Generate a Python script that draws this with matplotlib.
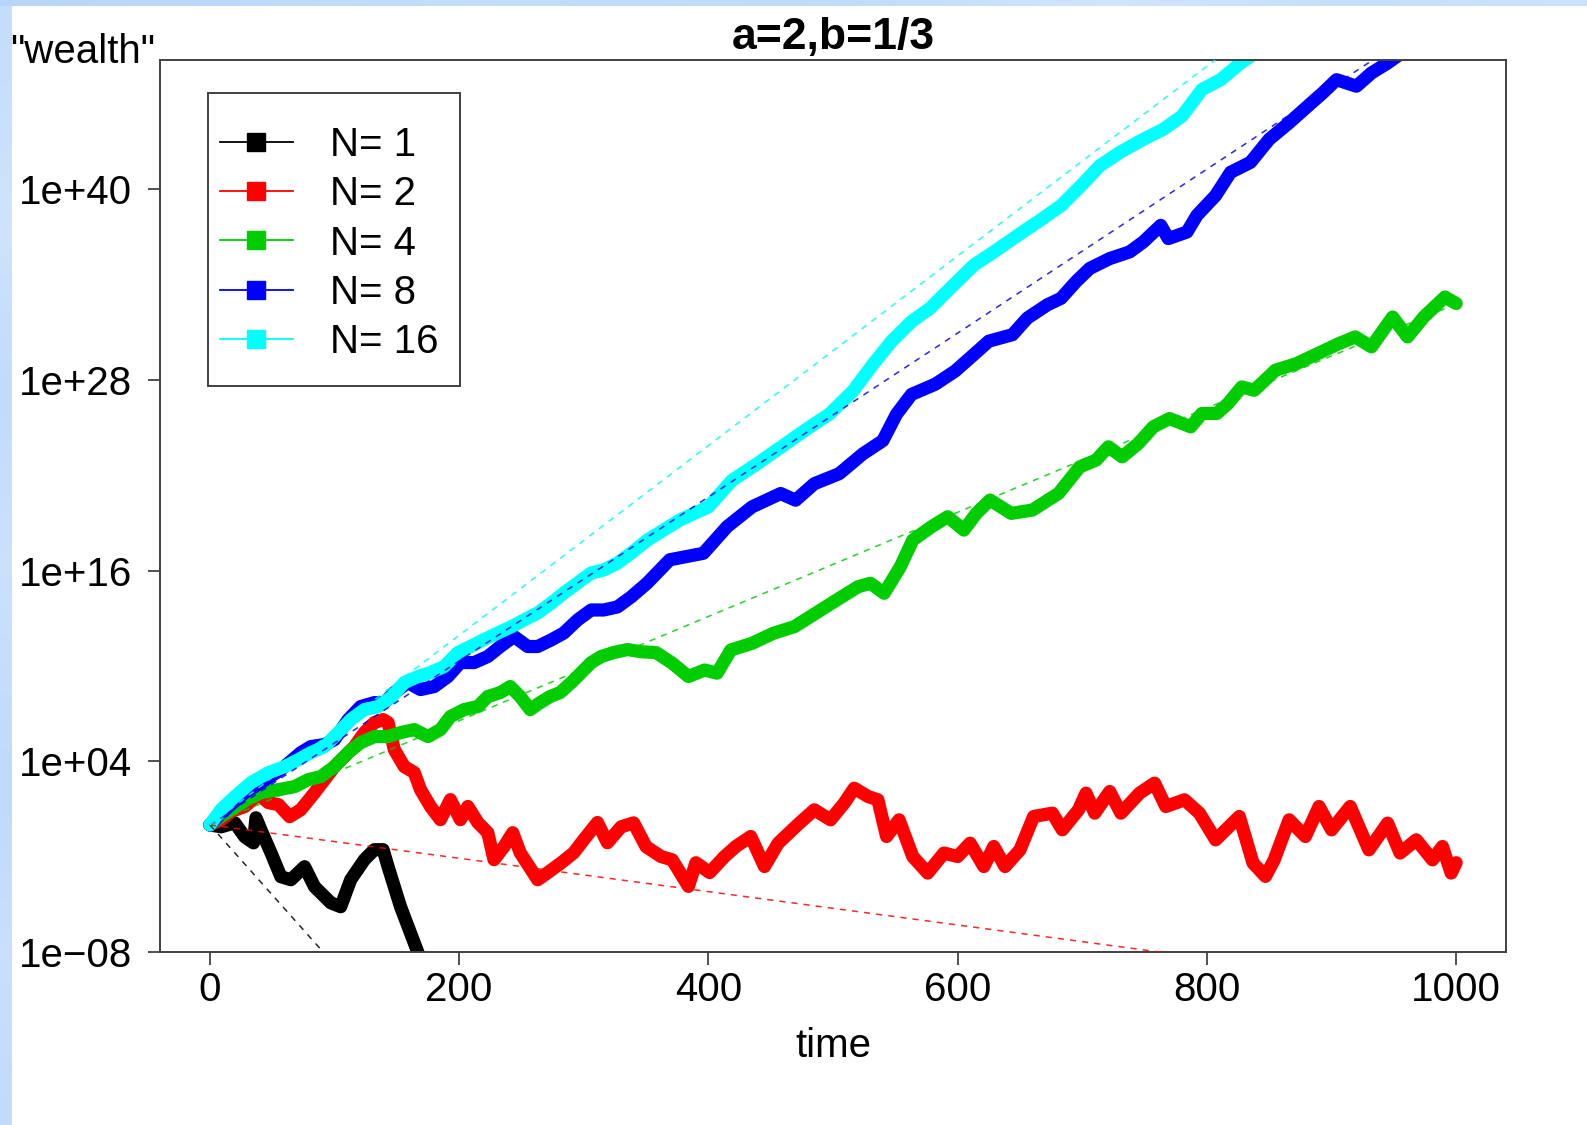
import numpy as np
import matplotlib
matplotlib.use("Agg")
import matplotlib.pyplot as plt
from matplotlib.lines import Line2D
from matplotlib.patches import Rectangle
from matplotlib.ticker import FixedLocator, NullLocator

plt.rcParams['font.family'] = ['Liberation Sans', 'DejaVu Sans']

# Wealth paths, stored as (time, log10 wealth)
path_n1 = [(0, 0), (9, -0.12), (20, 0.13), (28, -0.75), (35, -1.13), (37, 0.45),
           (41, -0.31), (49, -1.75), (57, -3.26), (65, -3.45), (76, -2.63),
           (84, -3.89), (97, -4.90), (105, -5.15), (113, -3.45), (124, -2.19),
           (132, -1.56), (139, -1.56), (143, -2.63), (153, -5.15), (167, -8.04),
           (177, -10.4), (190, -12.5)]

path_n2 = [(0, 0), (9, 0.33), (17, 0.84), (28, 1.16), (39, 1.91), (47, 1.40),
           (55, 1.28), (64, 0.52), (73, 0.96), (84, 2.03), (92, 2.85), (100, 3.67),
           (108, 4.30), (116, 4.93), (124, 5.81), (132, 6.44), (139, 6.63),
           (143, 6.44), (148, 4.74), (156, 3.67), (164, 3.30), (169, 2.22),
           (177, 1.16), (185, 0.33), (193, 1.59), (201, 0.33), (207, 1.16),
           (215, 0.15), (223, -0.49), (228, -2.19), (236, -1.37), (243, -0.49),
           (249, -1.75), (263, -3.45), (271, -3.01), (282, -2.38), (292, -1.75),
           (300, -0.93), (311, 0.15), (319, -1.12), (330, -0.12), (340, 0.13),
           (350, -1.37), (362, -1.99), (371, -2.20), (384, -3.87), (390, -2.38),
           (401, -3.00), (413, -1.99), (422, -1.36), (434, -0.73), (445, -2.62),
           (456, -1.15), (473, 0.11), (485, 0.95), (498, 0.32), (509, 1.37),
           (517, 2.31), (528, 1.79), (536, 1.58), (543, -0.73), (553, 0.32),
           (564, -1.99), (576, -3.03), (589, -1.77), (600, -1.99), (610, -1.15),
           (621, -2.62), (629, -1.36), (638, -2.62), (650, -1.57), (661, 0.53),
           (676, 0.74), (684, -0.31), (697, 0.95), (703, 2.00), (710, 0.74),
           (722, 2.10), (731, 0.74), (746, 2.00), (758, 2.63), (767, 1.16),
           (782, 1.58), (794, 0.74), (807, -0.94), (826, 0.53), (837, -2.40),
           (847, -3.24), (854, -2.20), (866, 0.32), (879, -0.73), (890, 1.16),
           (900, -0.31), (915, 1.16), (930, -1.57), (945, 0.11), (955, -1.77),
           (968, -0.94), (981, -2.20), (989, -1.36), (996, -3.03), (1000, -2.38)]

path_n4 = [(0, 0), (10, 0.6), (20, 1.1), (30, 1.6), (41, 2.03), (55, 2.22),
           (68, 2.41), (79, 2.85), (89, 3.04), (100, 3.67), (111, 4.55),
           (121, 5.18), (132, 5.56), (143, 5.56), (153, 5.81), (164, 6.00),
           (175, 5.56), (185, 6.00), (193, 6.82), (204, 7.26), (215, 7.45),
           (223, 8.08), (233, 8.33), (241, 8.71), (249, 8.08), (257, 7.26),
           (265, 7.70), (273, 8.08), (281, 8.33), (290, 8.96), (298, 9.59),
           (306, 10.22), (314, 10.60), (324, 10.85), (335, 11.04), (346, 10.90),
           (358, 10.85), (371, 10.18), (384, 9.34), (397, 9.75), (407, 9.55),
           (418, 11.01), (435, 11.43), (452, 12.06), (469, 12.48), (486, 13.32),
           (503, 14.16), (520, 14.99), (530, 15.21), (541, 14.58), (554, 16.25),
           (564, 17.93), (579, 18.77), (592, 19.40), (605, 18.56), (615, 19.61),
           (626, 20.45), (643, 19.61), (660, 19.82), (681, 20.87), (698, 22.54),
           (711, 22.96), (721, 23.80), (732, 23.17), (745, 24.01), (757, 25.06),
           (770, 25.58), (787, 25.06), (796, 25.90), (808, 25.90), (817, 26.53),
           (828, 27.57), (838, 27.36), (855, 28.62), (872, 29.04), (889, 29.67),
           (906, 30.30), (919, 30.72), (932, 30.09), (949, 31.97), (961, 30.72),
           (974, 31.97), (991, 33.23), (1000, 32.82)]

path_n8 = [(0, 0), (15, 1.16), (28, 2.03), (41, 2.66), (57, 3.48), (73, 4.55),
           (81, 4.93), (92, 5.06), (100, 5.37), (111, 6.63), (121, 7.45),
           (132, 7.70), (140, 7.70), (148, 8.33), (159, 8.96), (169, 8.52),
           (180, 8.71), (191, 9.34), (201, 10.22), (212, 10.22), (223, 10.60),
           (233, 11.23), (244, 11.86), (255, 11.23), (263, 11.23), (274, 11.65),
           (284, 12.08), (295, 12.90), (306, 13.53), (316, 13.53), (327, 13.72),
           (338, 14.35), (351, 15.23), (369, 16.69), (396, 17.10), (415, 18.77),
           (435, 20.02), (458, 20.86), (470, 20.44), (485, 21.48), (505, 22.11),
           (524, 23.36), (540, 24.19), (551, 25.86), (563, 27.10), (582, 27.74),
           (598, 28.57), (613, 29.61), (625, 30.45), (644, 30.86), (656, 31.91),
           (672, 32.74), (683, 33.15), (695, 34.20), (706, 35.03), (722, 35.65),
           (738, 36.07), (749, 36.70), (763, 37.74), (769, 36.91), (784, 37.32),
           (792, 38.37), (807, 39.62), (819, 41.08), (835, 41.71), (850, 43.16),
           (866, 44.20), (881, 45.25), (893, 46.08), (904, 46.91), (920, 46.50),
           (932, 47.33), (945, 47.96), (960, 48.80), (980, 49.80), (1000, 50.60)]

path_n16 = [(0, 0), (9, 0.97), (20, 1.78), (33, 2.66), (47, 3.29), (60, 3.67),
            (71, 4.11), (81, 4.55), (92, 4.93), (103, 5.81), (113, 6.63),
            (124, 7.26), (135, 7.45), (146, 8.08), (156, 8.96), (167, 9.34),
            (177, 9.59), (188, 9.97), (199, 10.85), (209, 11.23), (220, 11.67),
            (231, 12.08), (242, 12.48), (252, 12.90), (263, 13.34), (274, 13.97),
            (284, 14.60), (295, 15.23), (306, 15.86), (316, 16.05), (327, 16.48),
            (338, 17.11), (351, 17.93), (377, 19.19), (400, 20.02), (419, 21.69),
            (439, 22.73), (458, 23.77), (477, 24.82), (497, 25.86), (516, 27.31),
            (532, 28.99), (547, 30.45), (563, 31.69), (578, 32.53), (594, 33.78),
            (613, 35.24), (629, 36.07), (648, 37.10), (668, 38.16), (683, 38.99),
            (699, 40.24), (714, 41.49), (730, 42.33), (749, 43.16), (765, 43.79),
            (780, 44.62), (796, 46.29), (811, 46.91), (827, 47.96), (850, 49.20),
            (880, 50.80)]

group_sizes = [1, 2, 4, 8, 16]
# expected log10 growth per step of the averaged wealth
log_growth_rate = [-0.0880, -0.0105, 0.0328, 0.0516, 0.0597]
line_colors = ['#000000', '#FF0000', '#00CD00', '#0000FF', '#00FFFF']
paths = [path_n1, path_n2, path_n4, path_n8, path_n16]

y_ticks = [1e-08, 1e+04, 1e+16, 1e+28, 1e+40]
y_tick_labels = ['1e\u221208', '1e+04', '1e+16', '1e+28', '1e+40']
x_ticks = [0, 200, 400, 600, 800, 1000]

W, H = 1587, 1125
fig = plt.figure(figsize=(W / 100, H / 100), dpi=100)
fig.patch.set_facecolor('white')

# light blue slide border on the left and top
left_strip = fig.add_axes([0, 0, 12 / W, 1])
shade = np.interp(np.linspace(0, 1, 200), [0, 0.2, 0.35, 0.5, 0.7, 0.85, 1],
                  [0.55, 0.75, 0.5, 0.7, 0.45, 0.65, 0.5])
c_dark = np.array([0.66, 0.80, 0.97])
c_light = np.array([0.86, 0.92, 0.99])
img = c_dark[None, None, :] * (1 - shade[:, None, None]) + c_light[None, None, :] * shade[:, None, None]
left_strip.imshow(img, aspect='auto', extent=[0, 1, 0, 1])
left_strip.axis('off')
top_strip = fig.add_axes([0, 1 - 6 / H, 1, 6 / H])
shade2 = np.interp(np.linspace(0, 1, 400), [0, 0.3, 0.5, 0.7, 0.85, 1],
                   [0.3, 0.55, 0.45, 0.8, 0.6, 0.7])
img2 = c_dark[None, None, :] * (1 - shade2[None, :, None]) + c_light[None, None, :] * shade2[None, :, None]
top_strip.imshow(img2, aspect='auto', extent=[0, 1, 0, 1])
top_strip.axis('off')

ax_l, ax_r, ax_t, ax_b = 160, 1506, 60, 952
ax = fig.add_axes([ax_l / W, 1 - ax_b / H, (ax_r - ax_l) / W, (ax_b - ax_t) / H])
ax.set_yscale('log')

for path, col in zip(paths, line_colors):
    t = np.array([p[0] for p in path], dtype=float)
    w = 10.0 ** np.array([p[1] for p in path])
    ax.plot(t, w, color=col, lw=9.5, solid_joinstyle='round',
            solid_capstyle='round', zorder=2)

t_line = np.array([0.0, 1000.0])
for rate, col in zip(log_growth_rate, line_colors):
    ax.plot(t_line, 10.0 ** (rate * t_line), color=col, lw=1.1,
            dashes=(4, 4), alpha=0.85, zorder=3)

ax.set_xlim(-40, 1040)
ax.set_ylim(1e-08, 10 ** 48.15)

ax.xaxis.set_major_locator(FixedLocator(x_ticks))
ax.xaxis.set_minor_locator(NullLocator())
ax.yaxis.set_major_locator(FixedLocator(y_ticks))
ax.yaxis.set_minor_locator(NullLocator())
ax.set_yticklabels(y_tick_labels)
ax.set_xticklabels([str(v) for v in x_ticks])
ax.tick_params(axis='both', labelsize=29, length=9, width=1.2,
               direction='out', color='#333333')
ax.tick_params(axis='y', pad=11)
ax.tick_params(axis='x', pad=5)
for s in ax.spines.values():
    s.set_color('#404040')
    s.set_linewidth(1.4)

# legend: box drawn as a patch, entries from the library
box = Rectangle(((208 - ax_l) / (ax_r - ax_l), 1 - (386 - ax_t) / (ax_b - ax_t)),
                252 / (ax_r - ax_l), 293 / (ax_b - ax_t),
                transform=ax.transAxes, facecolor='white', edgecolor='#404040',
                lw=1.4, zorder=4)
ax.add_patch(box)
handles = [Line2D([], [], color=c, lw=1.3, marker='s', markersize=13,
                  markeredgecolor=c) for c in line_colors]
labels = ['N= %d' % n for n in group_sizes]
ax.legend(handles, labels, loc='upper left',
          bbox_to_anchor=((220 - ax_l) / (ax_r - ax_l), 1 - (126 - ax_t) / (ax_b - ax_t)),
          frameon=False, fontsize=29, borderpad=0, handlelength=1.81,
          handletextpad=0.93, labelspacing=0.28, borderaxespad=0, numpoints=1
          ).set_zorder(5)

fig.text((ax_l + ax_r) / 2 / W, 1 - 49 / H, 'a=2,b=1/3', ha='center',
         va='baseline', fontsize=32, fontweight='bold')
fig.text(155 / W, 1 - 63 / H, '"wealth"', ha='right', va='baseline', fontsize=29)
fig.text((ax_l + ax_r) / 2 / W, 1 - 1057 / H, 'time', ha='center',
         va='baseline', fontsize=29)

fig.savefig('out.png', dpi=100, facecolor='white')
